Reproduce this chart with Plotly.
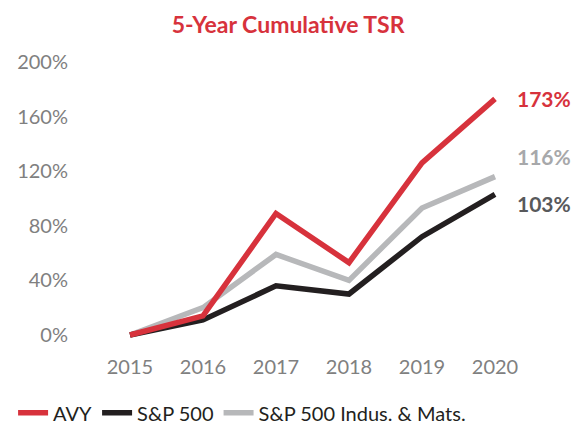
import plotly.graph_objects as go

years = [2015, 2016, 2017, 2018, 2019, 2020]
avy = [0, 14, 89, 53, 126, 173]
sp500 = [0, 11, 36, 30, 72, 103]
indus = [0, 20, 59, 40, 93, 116]
series_names = ["AVY", "S&P 500", "S&P 500 Indus. & Mats."]
end_labels = ["173%", "116%", "103%"]
y_ticks = [0, 40, 80, 120, 160, 200]

RED = "#d7323c"
BLACK = "#231f20"
GRAY = "#b7b8ba"

fig = go.Figure()
traces = [(series_names[2], indus, GRAY, 3), (series_names[1], sp500, BLACK, 2), (series_names[0], avy, RED, 1)]
for name, vals, col, rank in traces:
    fig.add_trace(go.Scatter(x=years, y=vals, mode="lines", name=name, legendrank=rank,
                             line=dict(color=col, width=5.5)))

label_cols = [RED, "#a7a8aa", "#58595b"]
label_vals = [avy[-1], indus[-1], sp500[-1]]
label_offsets = [0, 20, -9]
for txt, v, c, off in zip(end_labels, label_vals, label_cols, label_offsets):
    fig.add_annotation(x=years[-1], y=v, xref="x", yref="y", text=f"<b>{txt}</b>",
                       showarrow=False, xanchor="left", xshift=20, yshift=off,
                       font=dict(family="Lato", size=21, color=c))

# page body has an 8px margin, so the figure is sized to fit the window
fig.update_layout(
    width=574, height=418,
    margin=dict(l=67, r=80, t=47, b=76, autoexpand=False),
    paper_bgcolor="white", plot_bgcolor="white",
    font=dict(family="Lato", size=20, color="#808080"),
    title=dict(text="<b>5-Year Cumulative TSR</b>", x=0.488, xanchor="center", y=0.959, yanchor="middle",
               font=dict(family="Lato", size=23, color=RED)),
    showlegend=True,
    legend=dict(orientation="h", x=-0.145, xanchor="left", y=-0.147, yanchor="top",
                font=dict(family="Lato", size=20, color="#231f20"),
                tracegroupgap=0),
    xaxis=dict(range=[2014.247, 2020.096], tickvals=years, ticktext=[str(y) for y in years],
               showgrid=False, zeroline=False, showline=False, ticks="",
               tickfont=dict(size=20, color="#808080"), ticklabelstandoff=3),
    yaxis=dict(range=[-11, 205.1], tickvals=y_ticks, ticktext=[f"{t}%" for t in y_ticks],
               showgrid=False, zeroline=False, showline=False, ticks="",
               tickfont=dict(size=20, color="#808080"), ticklabelstandoff=6),
)

fig.write_html("out.html")
